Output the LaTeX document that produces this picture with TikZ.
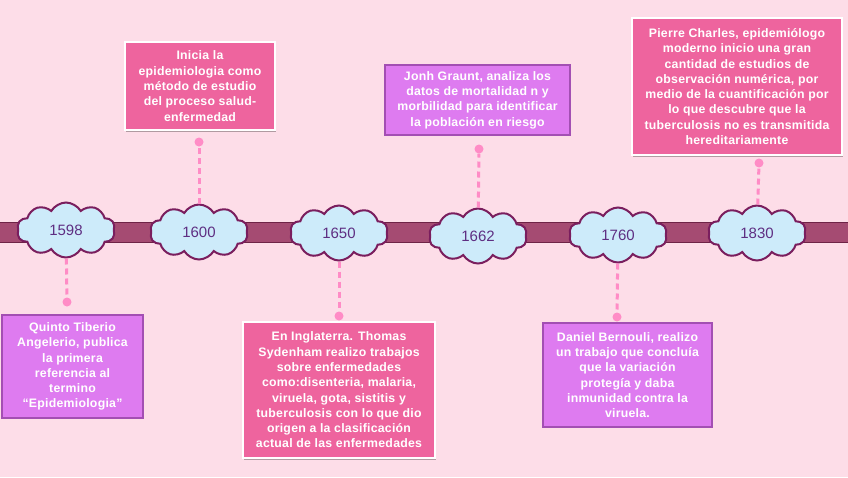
\documentclass[tikz,border=0pt]{standalone}
\usepackage{fontspec}
\setmainfont{Liberation Sans}
\newfontfamily\boxfont[LetterSpace=2]{Liberation Sans}
\usetikzlibrary{shapes.symbols,shadows}

\definecolor{bgpink}{HTML}{FDDDE8}
\definecolor{barfill}{HTML}{A54B72}
\definecolor{barline}{HTML}{6E2346}
\definecolor{cloudblue}{HTML}{CDEBFA}
\definecolor{cloudline}{HTML}{7A1E5E}
\definecolor{yeartext}{HTML}{5E2E82}
\definecolor{dashpink}{HTML}{FF8CC6}
\definecolor{boxpink}{HTML}{EE649E}
\definecolor{boxviolet}{HTML}{DE7BF0}
\definecolor{violetline}{HTML}{A34FB3}

\begin{document}
\begin{tikzpicture}[x=1pt,y=-1pt,
  year/.style={cloud,cloud puffs=10,cloud puff arc=120,cloud ignores aspect,
    minimum width=98pt,minimum height=55pt,inner sep=0pt,draw=cloudline,
    line width=2pt,fill=cloudblue,text=yeartext,font=\fontsize{15}{18}\selectfont},
  pinkbox/.style={rectangle,fill=boxpink,draw=white,line width=2pt,text=white,
    align=center,inner sep=0pt,font=\boxfont\bfseries\fontsize{12.3}{15.3}\selectfont,
    drop shadow={shadow xshift=1pt,shadow yshift=-1.5pt,opacity=.3,fill=black}},
  violetbox/.style={rectangle,fill=boxviolet,draw=violetline,line width=1.5pt,text=white,
    align=center,inner sep=0pt,font=\boxfont\bfseries\fontsize{12.3}{15.3}\selectfont},
  dot/.style={circle,fill=dashpink,inner sep=0pt,minimum size=9pt},
  link/.style={draw=dashpink,line width=3pt,dash pattern=on 6pt off 4pt}]

  \fill[bgpink] (0,0) rectangle (848,477);
  \useasboundingbox (0,0) rectangle (848,477);

  \draw[fill=barfill,draw=barline,line width=1pt] (-2,222) rectangle (850,242);

  \node[year] (c1598) at (66,230) {1598};
  \node[year] (c1600) at (199,232) {1600};
  \node[year] (c1650) at (339,233) {1650};
  \node[year] (c1662) at (478,236) {1662};
  \node[year] (c1760) at (618,235) {1760};
  \node[year] (c1830) at (757,233) {1830};

  \node[dot] (d1598) at (67,302) {};
  \node[dot] (d1600) at (199,142) {};
  \node[dot] (d1650) at (339,316) {};
  \node[dot] (d1662) at (479,149) {};
  \node[dot] (d1760) at (617,317) {};
  \node[dot] (d1830) at (759,163) {};

  \draw[link] (c1598) -- (d1598);
  \draw[link] (c1600) -- (d1600);
  \draw[link] (c1650) -- (d1650);
  \draw[link] (c1662) -- (d1662);
  \draw[link] (c1760) -- (d1760);
  \draw[link] (c1830) -- (d1830);

  % events
  \node[violetbox,minimum width=141pt,minimum height=103pt] (b1598) at (72.5,366.5)
    {Quinto Tiberio\\Angelerio, publica\\la primera\\referencia al\\termino\\“Epidemiologia”};
  \node[pinkbox,minimum width=150pt,minimum height=88pt] (b1600) at (200,86)
    {Inicia la\\epidemiologia como\\método de estudio\\del proceso salud-\\enfermedad};
  \node[pinkbox,minimum width=192pt,minimum height=136pt] (b1650) at (339,390)
    {En Inglaterra. Thomas\\Sydenham realizo trabajos\\sobre enfermedades\\como:disenteria, malaria,\\viruela, gota, sistitis y\\tuberculosis con lo que dio\\origen a la clasificación\\actual de las enfermedades};
  \node[violetbox,minimum width=185pt,minimum height=70pt] (b1662) at (477.5,100)
    {Jonh Graunt, analiza los\\datos de mortalidad n y\\morbilidad para identificar\\la población en riesgo};
  \node[violetbox,minimum width=169pt,minimum height=104pt] (b1760) at (627.5,375)
    {Daniel Bernouli, realizo\\un trabajo que concluía\\que la variación\\protegía y daba\\inmunidad contra la\\viruela.};
  \node[pinkbox,minimum width=210pt,minimum height=137pt] (b1830) at (737,86.5)
    {Pierre Charles, epidemiólogo\\moderno inicio una gran\\cantidad de estudios de\\observación numérica, por\\medio de la cuantificación por\\lo que descubre que la\\tuberculosis no es transmitida\\hereditariamente};

\end{tikzpicture}
\end{document}
